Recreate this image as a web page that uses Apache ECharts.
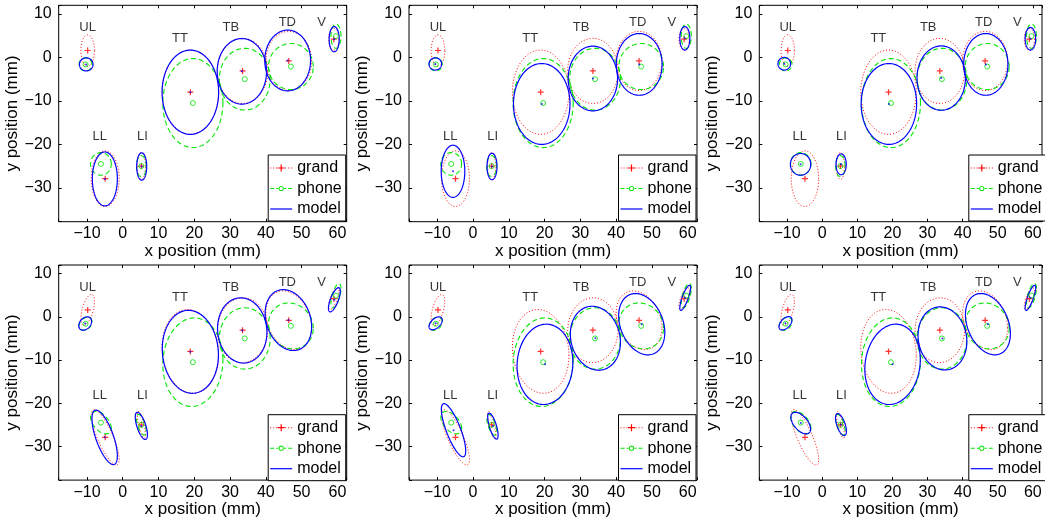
<!DOCTYPE html>
<html><head><meta charset="utf-8">
<script src="https://cdn.jsdelivr.net/npm/echarts@6/dist/echarts.min.js"></script>
<style>html,body{margin:0;padding:0;background:#fff}#c{width:1045px;height:519px}</style>
</head><body><div id="c"></div><script>
// ---------- data (mm) ----------
const articulators = ['UL','LL','LI','TT','TB','TD','V'];
const labelX = [-9.8, -6.4, 5.5, 16.0, 30.2, 46.0, 55.6];
const labelY = [6.8, -18.1, -18.1, 4.4, 6.9, 8.0, 8.0];

// grand (red dotted): centre, half extents, correlation (bottom row)
const grandCx = [-9.8, -4.9, 5.2, 18.9, 33.5, 46.4, 59.0];
const grandCy = [1.6, -27.9, -25.0, -8.0, -3.1, -0.8, 4.2];
const grandSx = [1.9, 3.9, 1.15, 7.9, 7.05, 6.4, 1.45];
const grandSy = [3.6, 6.4, 3.1, 9.7, 7.5, 6.8, 2.5];
const grandRhoFull = [0.55, -0.8, -0.75, -0.1, 0.02, -0.25, 0.7];

// phone (green dashed)
const phoneCx = [-10.4, -6.1, 5.2, 19.6, 34.1, 47.0, 59.6];
const phoneCy = [-1.6, -24.5, -25.0, -10.5, -5.0, -2.1, 4.9];
const phoneSx = [1.8, 2.9, 1.35, 8.4, 7.1, 6.25, 1.4];
const phoneSy = [1.5, 2.6, 2.4, 10.25, 7.1, 5.3, 2.8];
const phoneRhoFull = [0.3, -0.5, -0.6, 0.05, 0.0, -0.1, 0.6];

// model (blue solid), one table per panel: [cx, cy, sx, sy, rho] for UL,LL,LI,TT,TB,TD,V
const modelP1 = [[-10.2,-1.6,1.9,1.5,0],[-5.0,-27.95,3.5,6.2,0],[5.3,-25.1,1.4,3.15,0],[18.9,-8.0,7.9,9.7,0],[33.3,-3.2,6.9,7.55,0],[46.1,-0.7,6.4,7.0,0],[59.1,4.2,1.4,2.9,0]];
const modelP2 = [[-10.55,-1.5,1.77,1.4,0],[-5.6,-26.2,3.3,6.0,0],[5.3,-25.1,1.4,3.05,0],[19.2,-10.7,7.9,9.3,0],[33.5,-4.85,6.9,7.45,0],[46.45,-1.6,6.4,7.1,0],[59.2,4.4,1.4,2.7,0]];
const modelP3 = [[-10.8,-1.45,1.8,1.45,0],[-6.15,-24.6,2.9,2.5,0],[5.4,-24.6,1.45,2.4,0],[19.0,-10.7,7.9,9.3,0],[33.9,-4.75,6.9,7.4,0],[46.6,-1.6,6.3,7.1,0],[59.3,4.3,1.5,2.6,0]];
const modelP4 = [[-10.5,-1.55,1.8,1.55,0.33],[-5.05,-27.9,3.55,6.3,-0.68],[5.2,-25.25,1.7,3.15,-0.65],[18.9,-8.1,7.85,9.6,-0.07],[33.4,-3.15,6.9,7.55,-0.06],[46.3,-0.75,6.5,7.05,-0.22],[59.15,3.95,1.65,2.8,0.7]];
const modelP5 = [[-10.45,-1.5,1.85,1.5,0.5],[-5.45,-26.25,3.4,6.15,-0.78],[5.55,-25.3,1.45,3.0,-0.7],[20.1,-11.0,7.8,9.3,0.05],[34.2,-4.95,7.0,7.4,-0.13],[47.15,-1.7,6.45,7.1,-0.27],[59.3,4.4,1.5,2.9,0.8]];
const modelP6 = [[-10.45,-1.5,1.85,1.55,0.5],[-6.1,-24.6,2.8,2.5,-0.55],[5.35,-24.95,1.55,2.55,-0.6],[20.05,-11.0,7.9,9.3,0.12],[34.25,-5.0,6.95,7.3,-0.1],[47.2,-1.7,6.4,7.1,-0.31],[59.3,4.4,1.5,2.9,0.8]];
const modelPanels = [modelP1, modelP2, modelP3, modelP4, modelP5, modelP6];

const xMin = -17.9, xMax = 62.6, yMin = -37.8, yMax = 12.0;

// ---------- layout ----------
const FONT = 'Liberation Sans, Arial, Helvetica, sans-serif';
const colLeft = [58.7, 409, 759.3];
const rowTop = [5.3, 265];
const gridW = 288, gridH = 216.4;
const RED = '#ff0000', GREEN = '#00e600', BLUE = '#0000ff';

function minusFmt(v){
  if (Math.abs(v % 10) > 1e-6) return '';
  return (v < 0 ? '\u2212' : '') + Math.abs(v);
}

function ellipseRenderer(color, dash, width){
  return function(params, api){
    const cx = api.value(0), cy = api.value(1), sx = api.value(2), sy = api.value(3), r = api.value(4);
    const q = Math.sqrt(Math.max(0, 1 - r * r));
    const pts = [];
    const n = 120;
    for (let k = 0; k <= n; k++) {
      const t = 2 * Math.PI * k / n;
      pts.push(api.coord([cx + sx * Math.cos(t), cy + sy * (r * Math.cos(t) + q * Math.sin(t))]));
    }
    return {type:'polyline', silent:true, shape:{points:pts},
      style:{stroke:color, fill:'none', lineWidth:width, lineDash:dash}};
  };
}

const plusPath = 'path://M4,0h2v4h4v2h-4v4h-2v-4h-4v-2h4z';
const iconGrand = 'path://M0,0 M22,10 M0,4.5h1v1h-1z M3,4.5h1v1h-1z M6,4.5h1v1h-1z M15,4.5h1v1h-1z M18,4.5h1v1h-1z M21,4.5h1v1h-1z M10.4,1.5h1.2v7h-1.2z M7.5,4.4h7v1.2h-7z';
const iconPhone = 'path://M0,0 M22,10 M0,4.5h4v1h-4z M18,4.5h4v1h-4z M6,4.5h2v1h-2z M14,4.5h2v1h-2z M8.4,5a2.6,2.6 0 1,0 5.2,0a2.6,2.6 0 1,0 -5.2,0z M9.3,5a1.7,1.7 0 1,1 3.4,0a1.7,1.7 0 1,1 -3.4,0z';
const iconModel = 'path://M0,0 M22,10 M0,4.4h22v1.2h-22z';

const grids = [], xAxes = [], yAxes = [], series = [], legends = [];
for (let p = 0; p < 6; p++) {
  const r = Math.floor(p / 3), c = p % 3;
  const full = r === 1;
  grids.push({left: colLeft[c], top: rowTop[r], width: gridW, height: gridH,
    show: true, borderColor: '#000', borderWidth: 1, backgroundColor: '#fff', containLabel: false});
  const tick = {show: true, inside: true, length: 3, lineStyle: {color: '#000', width: 1}};
  const line = {show: false, onZero: false};
  xAxes.push({gridIndex: p, type: 'value', position: 'bottom', min: xMin, max: xMax,
    minInterval: 10, maxInterval: 10, splitLine: {show: false}, axisLine: line,
    axisTick: tick,
    axisLabel: {formatter: minusFmt, fontSize: 16, color: '#000', fontFamily: FONT, margin: 4},
    name: 'x position (mm)', nameLocation: 'middle', nameGap: 19,
    nameTextStyle: {fontSize: 17, color: '#000', fontFamily: FONT}});
  xAxes.push({gridIndex: p, type: 'value', position: 'top', min: xMin, max: xMax,
    minInterval: 10, maxInterval: 10, splitLine: {show: false}, axisLine: line,
    axisTick: tick, axisLabel: {show: false}});
  yAxes.push({gridIndex: p, type: 'value', position: 'left', min: yMin, max: yMax,
    minInterval: 10, maxInterval: 10, splitLine: {show: false}, axisLine: line,
    axisTick: tick,
    axisLabel: {formatter: minusFmt, fontSize: 16, color: '#000', fontFamily: FONT, margin: 7},
    name: 'y position (mm)', nameLocation: 'middle', nameGap: 33,
    nameTextStyle: {fontSize: 17, color: '#000', fontFamily: FONT}});
  yAxes.push({gridIndex: p, type: 'value', position: 'right', min: yMin, max: yMax,
    minInterval: 10, maxInterval: 10, splitLine: {show: false}, axisLine: line,
    axisTick: tick, axisLabel: {show: false}});

  const ax = {xAxisIndex: 2 * p, yAxisIndex: 2 * p};
  const grandData = articulators.map((a, i) => [grandCx[i], grandCy[i], grandSx[i], grandSy[i], full ? grandRhoFull[i] : 0]);
  const phoneData = articulators.map((a, i) => [phoneCx[i], phoneCy[i], phoneSx[i], phoneSy[i], full ? phoneRhoFull[i] : 0]);
  const modelData = modelPanels[p];

  series.push(Object.assign({type: 'custom', name: 'grand', coordinateSystem: 'cartesian2d',
    renderItem: ellipseRenderer(RED, [1, 2], 1), data: grandData, encode: {x: 0, y: 1}, z: 2, silent: true, itemStyle: {color: RED}}, ax));
  series.push(Object.assign({type: 'custom', name: 'phone', coordinateSystem: 'cartesian2d',
    renderItem: ellipseRenderer(GREEN, [5, 3], 1.1), data: phoneData, encode: {x: 0, y: 1}, z: 3, silent: true, itemStyle: {color: GREEN}}, ax));
  series.push(Object.assign({type: 'custom', name: 'model', coordinateSystem: 'cartesian2d',
    renderItem: ellipseRenderer(BLUE, null, 1.2), data: modelData, encode: {x: 0, y: 1}, z: 4, silent: true, itemStyle: {color: BLUE}}, ax));

  series.push(Object.assign({type: 'scatter', name: 'grand', symbol: plusPath, symbolSize: 6,
    itemStyle: {color: RED}, data: articulators.map((a, i) => [grandCx[i], grandCy[i]]), z: 6, silent: true}, ax));
  series.push(Object.assign({type: 'scatter', name: 'phone', symbol: 'circle', symbolSize: 5,
    itemStyle: {color: 'rgba(0,0,0,0)', borderColor: GREEN, borderWidth: 1}, data: articulators.map((a, i) => [phoneCx[i], phoneCy[i]]), z: 6, silent: true}, ax));
  series.push(Object.assign({type: 'scatter', name: 'model', symbol: 'circle', symbolSize: 2,
    itemStyle: {color: BLUE}, data: modelData.map(m => [m[0], m[1]]), z: 6, silent: true}, ax));

  series.push(Object.assign({type: 'scatter', name: 'labels', symbolSize: 1, itemStyle: {color: 'rgba(0,0,0,0)'},
    data: articulators.map((a, i) => ({name: a, value: [labelX[i], labelY[i]]})),
    label: {show: true, position: 'inside', formatter: '{b}', fontSize: 13, color: '#000', fontFamily: FONT},
    z: 7, silent: true}, ax));

  legends.push({left: colLeft[c] + 209.5, top: rowTop[r] + 149.7, orient: 'vertical',
    itemWidth: 22, itemHeight: 10, itemGap: 4.5, itemTextGap: 4, padding: [5, 4, 4, 2],
    borderColor: '#000', borderWidth: 1, backgroundColor: '#fff', selectedMode: false, z: 10,
    textStyle: {fontSize: 16, color: '#000', fontFamily: FONT},
    data: [
      {name: 'grand', icon: iconGrand, itemStyle: {color: RED, borderWidth: 0}},
      {name: 'phone', icon: iconPhone, itemStyle: {color: GREEN, borderWidth: 0}},
      {name: 'model', icon: iconModel, itemStyle: {color: BLUE, borderWidth: 0}}
    ]});
}

const chart = echarts.init(document.getElementById('c'), null, {renderer: 'canvas'});
chart.setOption({animation: false, backgroundColor: '#fff', grid: grids, xAxis: xAxes, yAxis: yAxes, series: series, legend: legends});
</script></body></html>
